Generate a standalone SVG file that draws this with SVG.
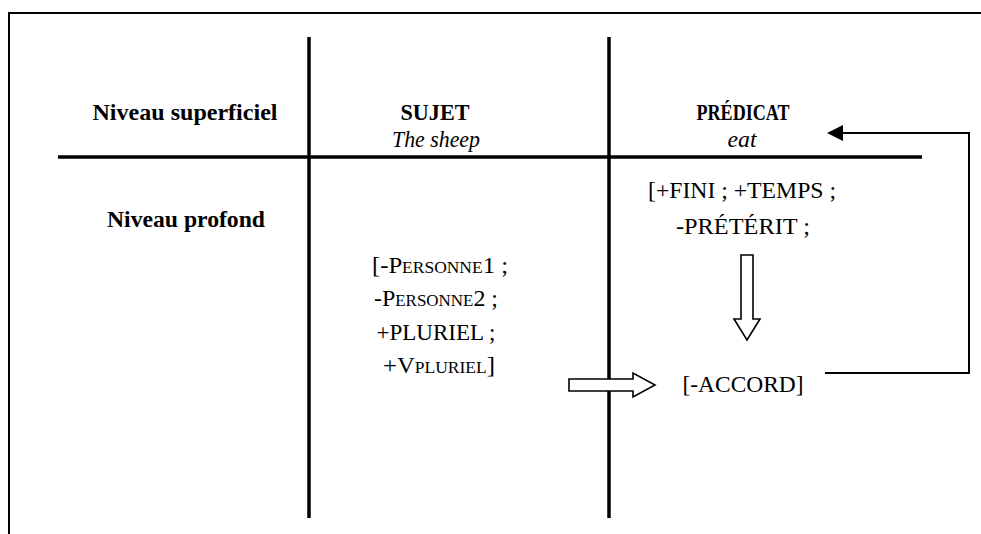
<svg xmlns="http://www.w3.org/2000/svg" width="981" height="534" viewBox="0 0 981 534">
<defs>
<style>
.t{font-family:"Liberation Serif","Times New Roman",serif;font-size:24px;fill:#000;text-anchor:middle}
.b{font-weight:bold}
.i{font-style:italic}
.rule{stroke:#000;stroke-width:3.5;fill:none}
.conn{stroke:#000;stroke-width:2;fill:none}
.hollow{fill:#fff;stroke:#000;stroke-width:1.6}
</style>
<marker id="ah" viewBox="0 0 16 16" refX="1" refY="8" markerWidth="16" markerHeight="16" markerUnits="userSpaceOnUse" orient="auto">
<polygon points="0,0 16,8 0,16" fill="#000"/>
</marker>
</defs>
<rect width="981" height="534" fill="#fff"/>
<g id="frame">
<path d="M9,534 V13 H981" fill="none" stroke="#000" stroke-width="2"/>
</g>
<g id="grid">
<line class="rule" x1="309" y1="37" x2="309" y2="518"/>
<line class="rule" x1="609" y1="37" x2="609" y2="518"/>
<line class="rule" x1="58" y1="157" x2="922" y2="157"/>
</g>
<g id="header-niveau-superficiel"><text class="t b" x="185" y="120" textLength="185" lengthAdjust="spacingAndGlyphs">Niveau superficiel</text></g>
<g id="header-sujet"><text class="t b" x="435" y="120" textLength="69" lengthAdjust="spacingAndGlyphs">SUJET</text>
<text class="t i" x="436" y="147" textLength="88" lengthAdjust="spacingAndGlyphs">The sheep</text></g>
<g id="header-predicat"><text class="t b" x="743" y="120" textLength="93" lengthAdjust="spacingAndGlyphs">PRÉDICAT</text>
<text class="t i" x="742" y="147" textLength="29" lengthAdjust="spacingAndGlyphs">eat</text></g>
<g id="niveau-profond"><text class="t b" x="186" y="227" textLength="158" lengthAdjust="spacingAndGlyphs">Niveau profond</text></g>
<g id="predicat-traits">
<text class="t" x="742" y="198" textLength="188" lengthAdjust="spacingAndGlyphs">[+FINI ; +TEMPS ;</text>
<text class="t" x="743" y="234" textLength="134" lengthAdjust="spacingAndGlyphs">-PRÉTÉRIT ;</text>
</g>
<g id="sujet-traits">
<text class="t" x="440" y="273" textLength="136" lengthAdjust="spacingAndGlyphs">[-P<tspan font-size="17">ERSONNE</tspan>1 ;</text>
<text class="t" x="436" y="306" textLength="124" lengthAdjust="spacingAndGlyphs">-P<tspan font-size="17">ERSONNE</tspan>2 ;</text>
<text class="t" x="436" y="340" textLength="119" lengthAdjust="spacingAndGlyphs">+PLURIEL ;</text>
<text class="t" x="439" y="373" textLength="112" lengthAdjust="spacingAndGlyphs">+V<tspan font-size="17">PLURIEL</tspan>]</text>
</g>
<g id="accord"><text class="t" x="743" y="392" textLength="121" lengthAdjust="spacingAndGlyphs">[-ACCORD]</text></g>
<g id="connectors">
<polygon class="hollow" points="569,379 633,379 633,373 655,385 633,397 633,391 569,391"/>
<polygon class="hollow" points="741,255 753,255 753,319 760,319 747,340 734,319 741,319"/>
<polyline class="conn" points="825,373 969,373 969,133 842,133" marker-end="url(#ah)"/>
</g>
</svg>
